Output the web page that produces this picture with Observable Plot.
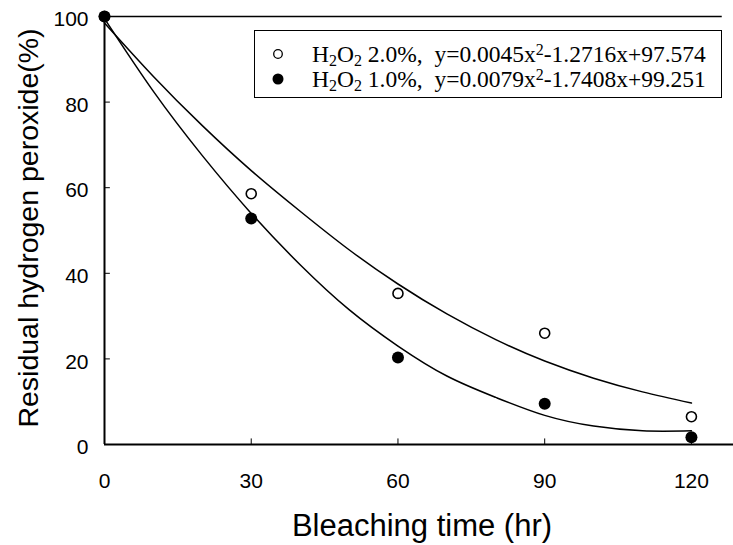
<!DOCTYPE html>
<html>
<head>
<meta charset="utf-8">
<script src="https://cdn.jsdelivr.net/npm/d3@7"></script>
<script src="https://cdn.jsdelivr.net/npm/@observablehq/plot@0.6"></script>
<style>
  html, body { margin: 0; padding: 0; background: #fff; }
  #wrap { position: relative; width: 733px; height: 545px; }
  #legend {
    position: absolute; left: 254px; top: 30px; width: 468px; height: 68px;
    box-sizing: border-box; border: 1.5px solid #000; background: #fff;
    font-family: "Liberation Serif", "Times New Roman", serif; font-size: 23.5px; color: #000;
  }
  .row { position: absolute; left: 0; height: 24px; line-height: 24px; white-space: pre; }
  .row svg { position: absolute; left: 16px; top: 5px; }
  .row span.t { position: absolute; left: 57px; top: 0; }
  sub { font-size: 0.68em; vertical-align: -0.25em; line-height: 0; }
  sup { font-size: 0.68em; vertical-align: 0.45em; line-height: 0; }
</style>
</head>
<body>
<div id="wrap"></div>
<script>
// Measured points (time in hr, residual H2O2 %)
const times = [0, 30, 60, 90, 120];
const h2o2_20 = [100, 58.6, 35.3, 26.0, 6.5];
const h2o2_10 = [100, 52.8, 20.3, 9.5, 1.7];

// Fitted curves
const fitTimes = [0, 10, 20, 30, 40, 50, 60, 70, 80, 90, 100, 110, 120];
const fit_20 = [98.5, 86, 74.5, 64, 54.5, 45.5, 37.5, 30.5, 24.5, 19.5, 15.5, 12.3, 9.7];
const fit_10 = [99.5, 82.5, 67.5, 54, 42, 31.5, 23, 16, 11, 6.8, 4.3, 3.2, 3.2];

const xTicks = [0, 30, 60, 90, 120];
const yTicks = [0, 20, 40, 60, 80, 100];
const seriesLabels = ["H<sub>2</sub>O<sub>2</sub> 2.0%,  y=0.0045x<sup>2</sup>-1.2716x+97.574",
                      "H<sub>2</sub>O<sub>2</sub> 1.0%,  y=0.0079x<sup>2</sup>-1.7408x+99.251"];
const xLabel = "Bleaching time (hr)";
const yLabel = "Residual hydrogen peroxide(%)";
const xMax = 128.6;
const topRuleEnd = 126.3;

const pts20 = times.map((t, i) => ({t, v: h2o2_20[i]}));
const pts10 = times.map((t, i) => ({t, v: h2o2_10[i]}));
const line20 = fitTimes.map((t, i) => ({t, v: fit_20[i]}));
const line10 = fitTimes.map((t, i) => ({t, v: fit_10[i]}));

const chart = Plot.plot({
  width: 733,
  height: 545,
  marginLeft: 104,
  marginRight: 0,
  marginTop: 16,
  marginBottom: 101,
  style: {fontFamily: "'Liberation Sans', Arial, sans-serif", background: "#fff", color: "#000"},
  x: {domain: [0, xMax]},
  y: {domain: [0, 100]},
  marks: [
    Plot.axisX({ticks: xTicks, tickSize: 0, tickPadding: 29, fontSize: 21, label: null}),
    Plot.axisY({ticks: yTicks, tickSize: 0, tickPadding: 16, fontSize: 21, dy: 3, label: null}),
    Plot.ruleX(xTicks.slice(1), {y1: 0, y2: 1.3, stroke: "#000", strokeWidth: 1}),
    Plot.ruleY(yTicks.slice(1, -1), {x1: 0, x2: 1.2, stroke: "#000", strokeWidth: 1}),
    Plot.ruleY([100], {x1: 0, x2: topRuleEnd, stroke: "#000", strokeWidth: 1.6}),
    Plot.ruleY([0], {stroke: "#000", strokeWidth: 2}),
    Plot.ruleX([0], {stroke: "#000", strokeWidth: 2}),
    Plot.line(line20, {x: "t", y: "v", curve: "natural", stroke: "#000", strokeWidth: 1.5}),
    Plot.line(line10, {x: "t", y: "v", curve: "natural", stroke: "#000", strokeWidth: 1.5}),
    Plot.dot(pts20, {x: "t", y: "v", r: 5, fill: "#fff", stroke: "#000", strokeWidth: 1.6}),
    Plot.dot(pts10, {x: "t", y: "v", r: 6, fill: "#000", stroke: "none"})
  ]
});

const wrap = document.getElementById("wrap");
wrap.appendChild(chart);

// axis titles as real text in the SVG
const svg = d3.select(chart.tagName.toLowerCase() === "svg" ? chart : chart.querySelector("svg"));
svg.append("text")
  .attr("x", 422).attr("y", 536)
  .attr("text-anchor", "middle")
  .attr("font-size", 31)
  .attr("fill", "#000")
  .text(xLabel);
svg.append("text")
  .attr("transform", "translate(38,228) rotate(-90)")
  .attr("text-anchor", "middle")
  .attr("font-size", 28.5)
  .attr("fill", "#000")
  .text(yLabel);

// legend
const legend = document.createElement("div");
legend.id = "legend";
seriesLabels.forEach((lab, i) => {
  const row = document.createElement("div");
  row.className = "row";
  row.style.top = (i === 0 ? 11 : 36) + "px";
  const marker = i === 0
    ? '<svg width="14" height="14"><circle cx="7" cy="7" r="4.3" fill="#fff" stroke="#000" stroke-width="1.3"/></svg>'
    : '<svg width="14" height="14"><circle cx="7" cy="7" r="5.5" fill="#000"/></svg>';
  row.innerHTML = marker + '<span class="t">' + lab + '</span>';
  legend.appendChild(row);
});
wrap.appendChild(legend);
</script>
</body>
</html>
